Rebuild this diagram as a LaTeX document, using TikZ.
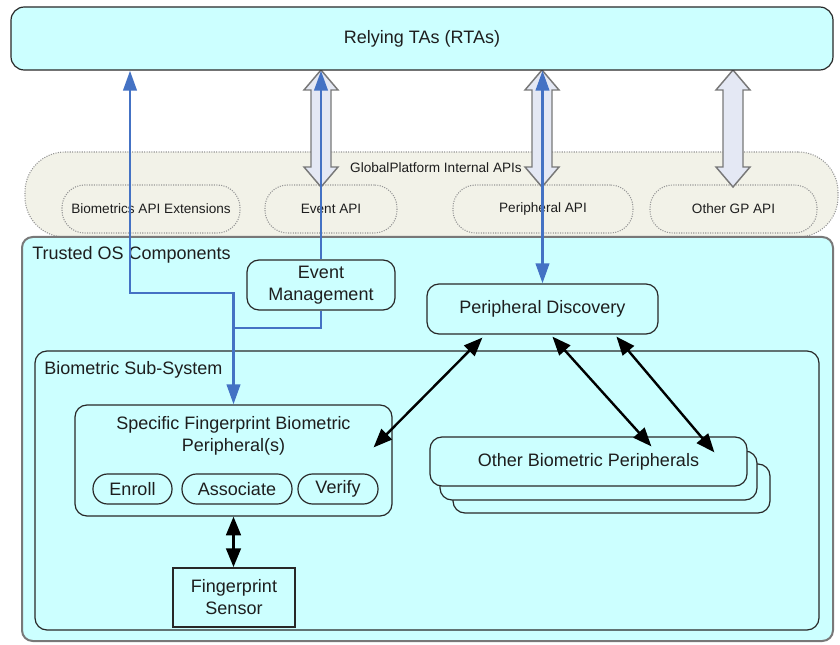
\documentclass[tikz,border=0pt]{standalone}
\usepackage{fontspec}
\setmainfont{Liberation Sans}
\usetikzlibrary{arrows.meta,calc}

\definecolor{boxfill}{RGB}{204,255,255}
\definecolor{bandfill}{RGB}{242,242,232}
\definecolor{apiedge}{RGB}{150,150,150}
\definecolor{hollowfill}{RGB}{228,232,244}
\definecolor{hollowedge}{RGB}{120,120,120}
\definecolor{linkblue}{RGB}{68,114,196}
\definecolor{edge}{RGB}{40,40,40}
\definecolor{ink}{RGB}{30,30,30}

% double-headed block arrow: x, top tip y, bottom tip y (pixel units)
\newcommand{\apiarrow}[3]{%
  \draw[hollowarrow] (#1,#2) -- (#1+17,#2+20) -- (#1+10,#2+20) -- (#1+10,#3-20)
    -- (#1+17,#3-20) -- (#1,#3) -- (#1-17,#3-20) -- (#1-10,#3-20)
    -- (#1-10,#2+20) -- (#1-17,#2+20) -- cycle;}

\begin{document}
\begin{tikzpicture}[x=0.75pt,y=-0.75pt,
  sz/.style 2 args={minimum width=#1*0.75pt, minimum height=#2*0.75pt},
  mainfont/.style={font=\fontsize{13.5pt}{16.5pt}\selectfont},
  smallfont/.style={font=\fontsize{10.2pt}{12pt}\selectfont},
  box/.style={draw=edge, line width=0.9pt, fill=boxfill, rounded corners=9pt,
    inner sep=0pt, mainfont, text=ink, align=center},
  apipill/.style={draw=apiedge, densely dotted, line width=0.8pt, fill=bandfill,
    rounded corners=17pt, inner sep=0pt, smallfont, text=ink},
  subpill/.style={draw=edge, line width=0.9pt, fill=boxfill, rounded corners=11pt,
    inner sep=0pt, mainfont, text=ink},
  txt/.style={inner sep=0pt, mainfont, text=ink, align=center},
  hollowarrow/.style={draw=hollowedge, line width=1.1pt, fill=hollowfill, line join=miter},
  blk/.style={draw=black, line width=1.8pt, >={Triangle[width=11pt,length=14pt]}, <->},
  blueboth/.style={draw=linkblue, line width=2.2pt, >={Triangle[width=10pt,length=15pt]}, <->},
  blueup/.style={draw=linkblue, line width=2.2pt, >={Triangle[width=10pt,length=15pt]}, ->},
  blueplain/.style={draw=linkblue, line width=2.2pt},
]
\fill[white] (0,0) rectangle (840,645);
\useasboundingbox (0,0) rectangle (840,645);

% GlobalPlatform internal API band
\node[apipill, rounded corners=30pt, sz={813}{85}] (gpband) at (431.5,194.5) {};
\node[txt, smallfont] (gplabel) at (436,168) {GlobalPlatform Internal APIs};
\node[apipill, sz={178}{48}] (apiext) at (151,209) {Biometrics API Extensions};
\node[apipill, sz={132}{48}] (evapi) at (331,209) {Event API};
\node[apipill, sz={180}{48}] (perapi) at (543,209) {Peripheral API};
\node[apipill, sz={167}{48}] (othapi) at (733.5,209) {Other GP API};

% block arrows between the RTAs and the API band
\apiarrow{321}{70}{187}
\apiarrow{542}{70}{187}
\apiarrow{733}{70}{187}

% relying TAs
\node[box, rounded corners=10pt, sz={822}{63}] (rta) at (422,38.5) {Relying TAs (RTAs)};

% trusted OS
\node[box, draw=hollowedge, line width=1.5pt, rounded corners=8pt, sz={811}{404}] (tos) at (427.5,439) {};
\node[txt, anchor=west] (toslabel) at (32,255) {Trusted OS Components};
\node[box, sz={148}{50}] (evt) at (321,285) {Event\\Management};
\node[box, sz={231}{50}] (pd) at (542.5,309) {Peripheral Discovery};

% biometric sub-system
\node[box, sz={784}{279}] (bss) at (427,490.5) {};
\node[txt, anchor=west] (bsslabel) at (44,370) {Biometric Sub-System};

\node[box, sz={317}{111}] (spec) at (233.5,460.5) {};
\node[txt] (spectitle) at (233.5,436) {Specific Fingerprint Biometric\\Peripheral(s)};
\node[subpill, sz={79}{30}] (enroll) at (132.5,489) {Enroll};
\node[subpill, sz={110}{30}] (assoc) at (237,489) {Associate};
\node[subpill, sz={80}{30}] (verify) at (338,489) {Verify};

\node[box, rounded corners=0pt, line width=1.4pt, sz={122}{59}] (sensor) at (234,597.5) {Fingerprint\\Sensor};

% stack of other peripherals
\node[box, sz={317}{49}] (oth3) at (611.5,488.5) {};
\node[box, sz={317}{49}] (oth2) at (598.5,475.5) {};
\node[box, sz={317}{49}] (oth) at (588.5,461.5) {Other Biometric Peripherals};

% black links
\draw[blk] ($(spec.north east)+(-19,43)$) -- ($(pd.south west)+(56,3)$);
\draw[blk] ($(pd.south west)+(126,2)$) -- ($(oth.north west)+(222,10)$);
\draw[blk] ($(pd.south west)+(190,2)$) -- ($(oth.north west)+(285,16)$);
\draw[blk] (spec.south) -- (spec.south |- sensor.north);

% blue links
\coordinate (bendleft) at (130,293);
\coordinate (merge) at (233.5,328);
\draw[blueplain] (evt.south) |- (merge);
\draw[blueboth] (spec.north) |- (bendleft) -- (bendleft |- rta.south);
\draw[blueup] (evt.north) -- (evt.north |- rta.south);
\draw[blueboth] (pd.north) -- (pd.north |- rta.south);
\end{tikzpicture}
\end{document}
